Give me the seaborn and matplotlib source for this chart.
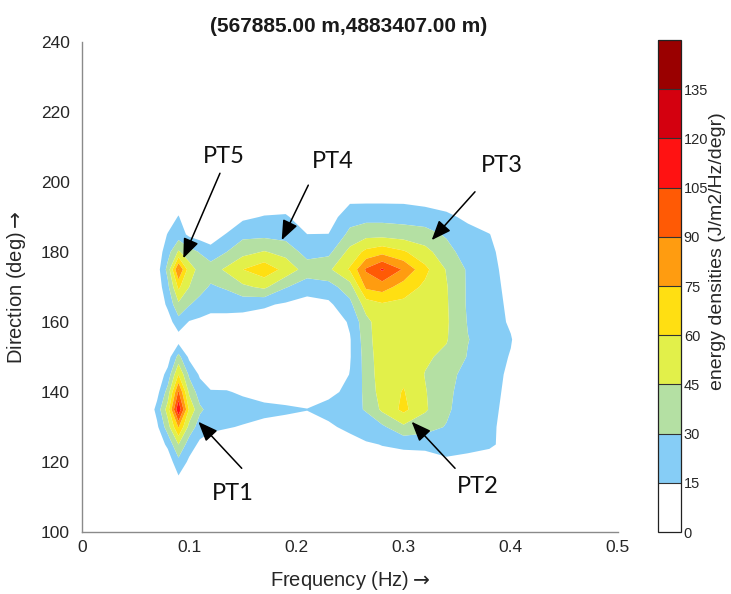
import numpy as np
import pandas as pd
import matplotlib
matplotlib.use("Agg")
import matplotlib.pyplot as plt
import seaborn as sns

# Spectral grid: frequency bins (Hz) and direction bins (deg)
frequency_hz = [0.06, 0.07, 0.08, 0.09, 0.10, 0.11, 0.12, 0.135, 0.15, 0.17, 0.19,
                0.21, 0.23, 0.25, 0.265, 0.28, 0.30, 0.32, 0.34, 0.36, 0.38, 0.40, 0.42]
direction_deg = [110, 115, 120, 125, 130, 135, 140, 145, 150, 155,
                 160, 165, 170, 175, 180, 185, 190, 195, 200]

# Energy density (J/m2/Hz/degr); one list per frequency bin, ordered by direction
e_f060 = [0, 0, 0, 0, 0, 0, 0, 0, 0, 0, 0, 0, 0, 0, 0, 0, 0, 0, 0]
e_f070 = [0, 0, 2, 6, 12, 20, 10, 5, 2, 0, 2, 4, 6, 8, 6, 3, 0, 0, 0]
e_f080 = [0, 2, 6, 18, 38, 52, 36, 20, 8, 3, 8, 18, 26, 35, 24, 16, 6, 0, 0]
e_f090 = [0, 12, 25, 45, 76, 118, 92, 60, 35, 8, 24, 42, 63, 91, 47, 22, 16, 5, 0]
e_f100 = [0, 3, 12, 22, 40, 58, 42, 27, 12, 6, 14, 31, 45, 52, 36, 12, 3, 0, 0]
e_f110 = [0, 0, 5, 12, 22, 33, 22, 13, 6, 4, 12, 24, 36, 40, 29, 8, 2, 0, 0]
e_f120 = [0, 0, 2, 8, 18, 24, 16, 8, 3, 3, 10, 20, 28, 38, 20, 8, 3, 0, 0]
e_f135 = [0, 0, 1, 6, 16, 22, 16, 6, 2, 2, 10, 20, 32, 48, 30, 16, 4, 0, 0]
e_f150 = [0, 0, 0, 4, 14, 21, 13, 4, 0, 2, 9, 20, 42, 60, 40, 26, 12, 2, 0]
e_f170 = [0, 0, 0, 2, 11, 19, 9, 2, 0, 2, 8, 17, 48, 70, 46, 26, 16, 4, 0]
e_f190 = [0, 0, 0, 1, 8, 18, 6, 1, 0, 1, 5, 13, 31, 55, 40, 24, 17, 5, 0]
e_f210 = [0, 0, 0, 2, 8, 15.5, 6, 1, 0, 0, 3, 9, 22, 38, 24, 15.2, 6, 2, 0]
e_f230 = [0, 0, 1, 4, 13, 19, 12, 4, 1, 1, 4, 12, 24, 42, 26, 15.3, 8, 2, 0]
e_f250 = [0, 0, 3, 10, 18, 26, 18, 15.5, 14, 14, 17, 26, 38, 62, 50, 34, 24, 12, 2]
e_f265 = [0, 0, 6, 13, 24, 31, 34, 35, 36, 38, 40, 52, 78, 92, 64, 40, 25, 12, 3]
e_f280 = [0, 2, 9, 15.5, 27, 48, 52, 54, 55, 56, 55, 58, 82, 107, 70, 40, 25, 12, 3]
e_f300 = [0, 2, 8, 18, 42, 64, 61, 57, 56, 55, 55, 56, 68, 88, 62, 38, 24, 12, 3]
e_f320 = [0, 1, 6, 20, 36, 47, 46, 44.5, 47, 48, 49, 52, 57, 64, 50, 36, 22, 10, 2]
e_f340 = [0, 2, 12, 22, 29, 33, 34, 36, 42, 46, 47, 46.5, 46, 44, 36, 28, 18, 8, 1]
e_f360 = [0, 2, 10, 20, 20, 20, 22, 24, 29, 30.5, 29, 28, 28, 28, 22, 20, 12, 4, 0]
e_f380 = [0, 0, 6, 18, 18, 19, 20, 21, 22, 23, 22, 21, 20, 19, 18, 15.5, 6, 0, 0]
e_f400 = [0, 0, 2, 8, 9, 10, 11, 12, 14, 16, 13, 12, 11, 10, 8, 4, 1, 0, 0]
e_f420 = [0, 0, 0, 0, 0, 0, 0, 0, 0, 0, 0, 0, 0, 0, 0, 0, 0, 0, 0]

energy_columns = [e_f060, e_f070, e_f080, e_f090, e_f100, e_f110, e_f120, e_f135,
                  e_f150, e_f170, e_f190, e_f210, e_f230, e_f250, e_f265, e_f280,
                  e_f300, e_f320, e_f340, e_f360, e_f380, e_f400, e_f420]

# Contour levels and their fill colours
level_edges = [0, 15, 30, 45, 60, 75, 90, 105, 120, 135, 150]
level_colors = ["#ffffff", "#86cdf6", "#b4e0a3", "#e2f04a", "#ffdf12",
                "#ff9c10", "#ff5a05", "#ff1212", "#d4000f", "#9a0000"]
colorbar_ticks = [0, 15, 30, 45, 60, 75, 90, 105, 120, 135]

# Spectral peak annotations: label position, arrow tail and arrow tip (Hz, deg)
peak_names = ["PT1", "PT2", "PT3", "PT4", "PT5"]
label_freq = [0.1404, 0.369, 0.3915, 0.2337, 0.1325]
label_dir = [111.1, 113.1, 204.6, 205.8, 207.4]
tail_freq = [0.149, 0.348, 0.3666, 0.2111, 0.1287]
tail_dir = [118.2, 118.2, 197.2, 199.1, 202.5]
tip_freq = [0.1085, 0.3075, 0.3262, 0.1863, 0.0945]
tip_dir = [131.5, 131.5, 183.4, 183.4, 178.2]

spectrum = pd.DataFrame(np.array(energy_columns).T, index=direction_deg,
                        columns=frequency_hz)

sns.set_theme(style="white")
plt.rcParams["font.family"] = ["Liberation Sans", "DejaVu Sans"]
plt.rcParams["mathtext.fontset"] = "dejavusans"

text_color = "#262626"
spine_color = "#8a8a8a"

W, H = 731, 594
fig = plt.figure(figsize=(W / 100, H / 100), dpi=100)
ax = fig.add_axes([82 / W, 1 - 532 / H, (618 - 82) / W, (532 - 42) / H])
cax = fig.add_axes([658 / W, 1 - 532 / H, 23 / W, (532 - 40) / H])

cs = ax.contourf(spectrum.columns.values, spectrum.index.values, spectrum.values,
                 levels=level_edges, colors=level_colors, antialiased=True)

ax.set_xlim(0, 0.5)
ax.set_ylim(100, 240)
ax.set_xticks([0, 0.1, 0.2, 0.3, 0.4, 0.5])
ax.set_xticklabels(["0", "0.1", "0.2", "0.3", "0.4", "0.5"])
ax.set_yticks(np.arange(100, 241, 20))
sns.despine(ax=ax)
for side in ("left", "bottom"):
    ax.spines[side].set_color(spine_color)
    ax.spines[side].set_linewidth(1.0)
ax.tick_params(direction="in", length=4, width=0.8, color=spine_color,
               labelsize=12.5, labelcolor=text_color)
ax.tick_params(axis="y", pad=9)
ax.tick_params(axis="x", pad=6)
ax.set_xlabel("Frequency (Hz)$\\rightarrow$", fontsize=14.5, color=text_color,
              labelpad=10)
ax.set_ylabel("Direction (deg)$\\rightarrow$", fontsize=14.5, color=text_color,
              labelpad=9)

fig.text(349 / W, 1 - 27 / H, "(567885.00 m,4883407.00 m)", ha="center",
         va="center", fontsize=15, fontweight="bold", color="#1a1a1a")

for name, lf, ld, tf, td, pf, pd_ in zip(peak_names, label_freq, label_dir,
                                         tail_freq, tail_dir, tip_freq, tip_dir):
    ax.annotate("", xy=(pf, pd_), xytext=(tf, td),
                arrowprops=dict(arrowstyle="-|>,head_length=1.0,head_width=0.4",
                                color="black", lw=1.1, shrinkA=0, shrinkB=0,
                                mutation_scale=12))
    ax.text(lf, ld, name, ha="center", va="center", fontsize=17,
            family=["Lato", "DejaVu Sans"], color="#111111")

cb = fig.colorbar(cs, cax=cax, ticks=colorbar_ticks, drawedges=True)
cb.outline.set_edgecolor("#222222")
cb.outline.set_linewidth(0.9)
cb.dividers.set_color("#333333")
cb.dividers.set_linewidth(0.8)
cax.set_ylim(0, 150)
cax.tick_params(length=0, labelsize=10.5, labelcolor=text_color, pad=2)
fig.text(718 / W, 1 - 251 / H, "energy densities (J/m2/Hz/degr)", rotation=90,
         ha="center", va="center", fontsize=14, color=text_color)

fig.savefig("out.png", dpi=100, facecolor="white")
